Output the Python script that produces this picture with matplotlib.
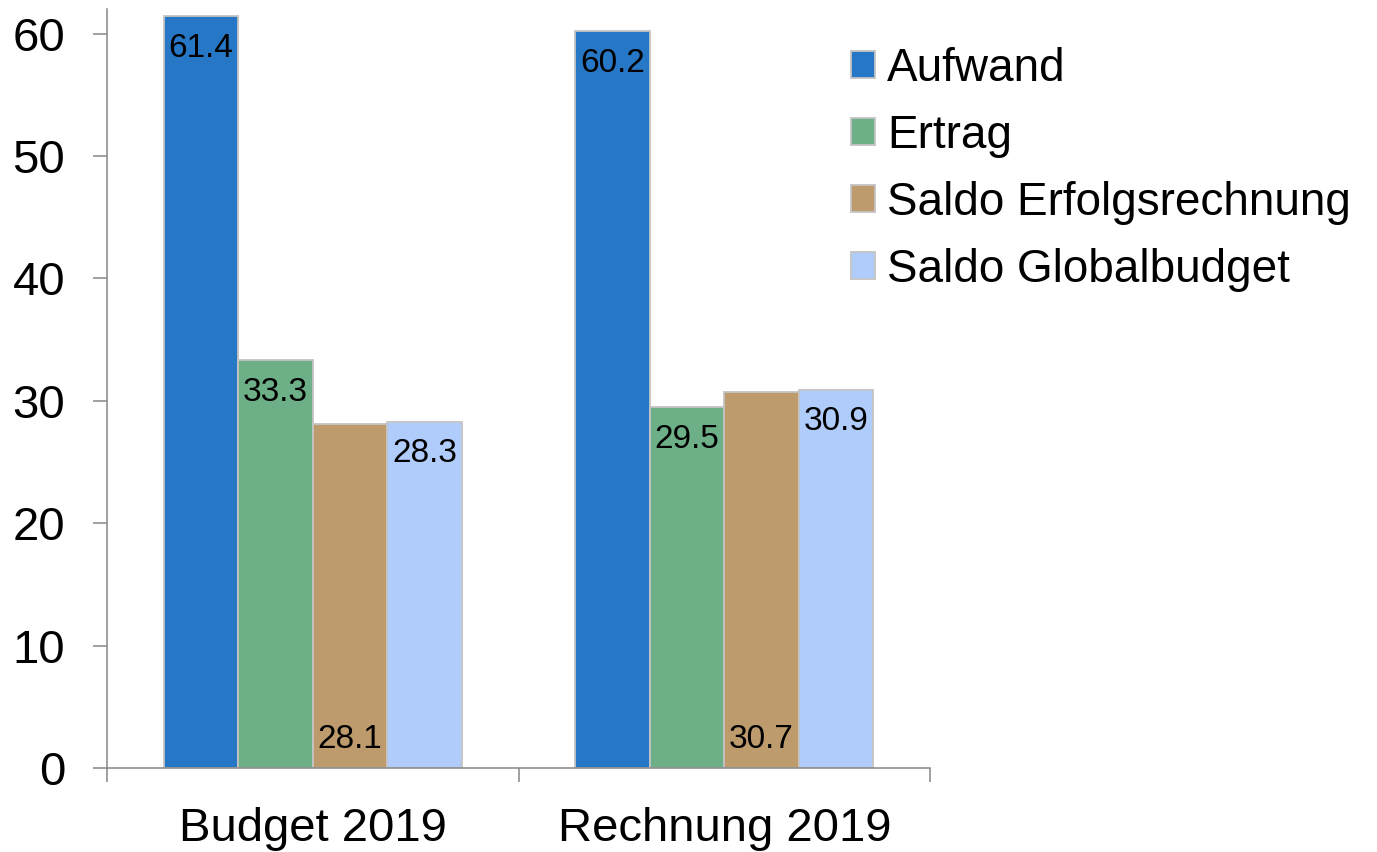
import matplotlib
matplotlib.use("Agg")
import matplotlib.pyplot as plt
import numpy as np

# ---------- data ------------------------------------------------------------
categories = ["Budget 2019", "Rechnung 2019"]
series     = ["Aufwand", "Ertrag", "Saldo Erfolgsrechnung", "Saldo Globalbudget"]
aufwand    = [61.4, 60.2]
ertrag     = [33.3, 29.5]
saldo_er   = [28.1, 30.7]
saldo_gb   = [28.3, 30.9]
values     = [aufwand, ertrag, saldo_er, saldo_gb]

colors     = ["#2777C7", "#6DB088", "#BD9B6D", "#B0CCFB"]
label_pos  = ["top", "top", "base", "top"]   # where the value label sits

# ---------- drawing ---------------------------------------------------------
plt.rcParams.update({"font.family": ["Liberation Sans", "DejaVu Sans"]})

fig = plt.figure(figsize=(13.77, 8.52), dpi=100)
ax = fig.add_axes([0.0777, 0.0986, 0.5977, 0.8908])

x = np.arange(len(categories))
w = 0.181
for i, (name, vals, col) in enumerate(zip(series, values, colors)):
    xs = x + (i - 1.5) * w
    bars = ax.bar(xs, vals, width=w, color=col, edgecolor="#C4C4C4",
                  linewidth=1.3, label=name, zorder=2)
    for b, v in zip(bars, vals):
        cx = b.get_x() + b.get_width() / 2
        if label_pos[i] == "top":
            ax.annotate(f"{v:.1f}", (cx, v), xytext=(0, -12),
                        textcoords="offset points", ha="center", va="top",
                        fontsize=24, color="black", zorder=3)
        else:
            ax.annotate(f"{v:.1f}", (cx, 0), xytext=(0, 9),
                        textcoords="offset points", ha="center", va="bottom",
                        fontsize=24, color="black", zorder=3)

ax.set_xlim(-0.5, 1.5)
ax.set_ylim(0, 62)
ax.set_yticks(range(0, 61, 10))

ax.set_xticks(x)
ax.set_xticklabels(categories)
ax.set_xticks([-0.5, 0.5, 1.5], minor=True)
ax.tick_params(axis="x", which="major", length=0, pad=28, labelsize=34)
ax.tick_params(axis="x", which="minor", length=10, width=1.1,
               color="#868686", direction="out")
ax.tick_params(axis="y", length=10, width=1.1, color="#868686",
               direction="out", pad=20, labelsize=34)

for s in ("top", "right"):
    ax.spines[s].set_visible(False)
for s in ("left", "bottom"):
    ax.spines[s].set_color("#868686")
    ax.spines[s].set_linewidth(1.1)

leg = ax.legend(loc="upper left", bbox_to_anchor=(0.6016, 0.972),
                bbox_transform=fig.transFigure, frameon=False, fontsize=33,
                handlelength=0.52, handleheight=0.52, handletextpad=0.26,
                labelspacing=0.5, borderpad=0)
for h in leg.legend_handles:
    h.set_edgecolor("#C4C4C4")

fig.savefig("out.png", dpi=100, facecolor="white")
